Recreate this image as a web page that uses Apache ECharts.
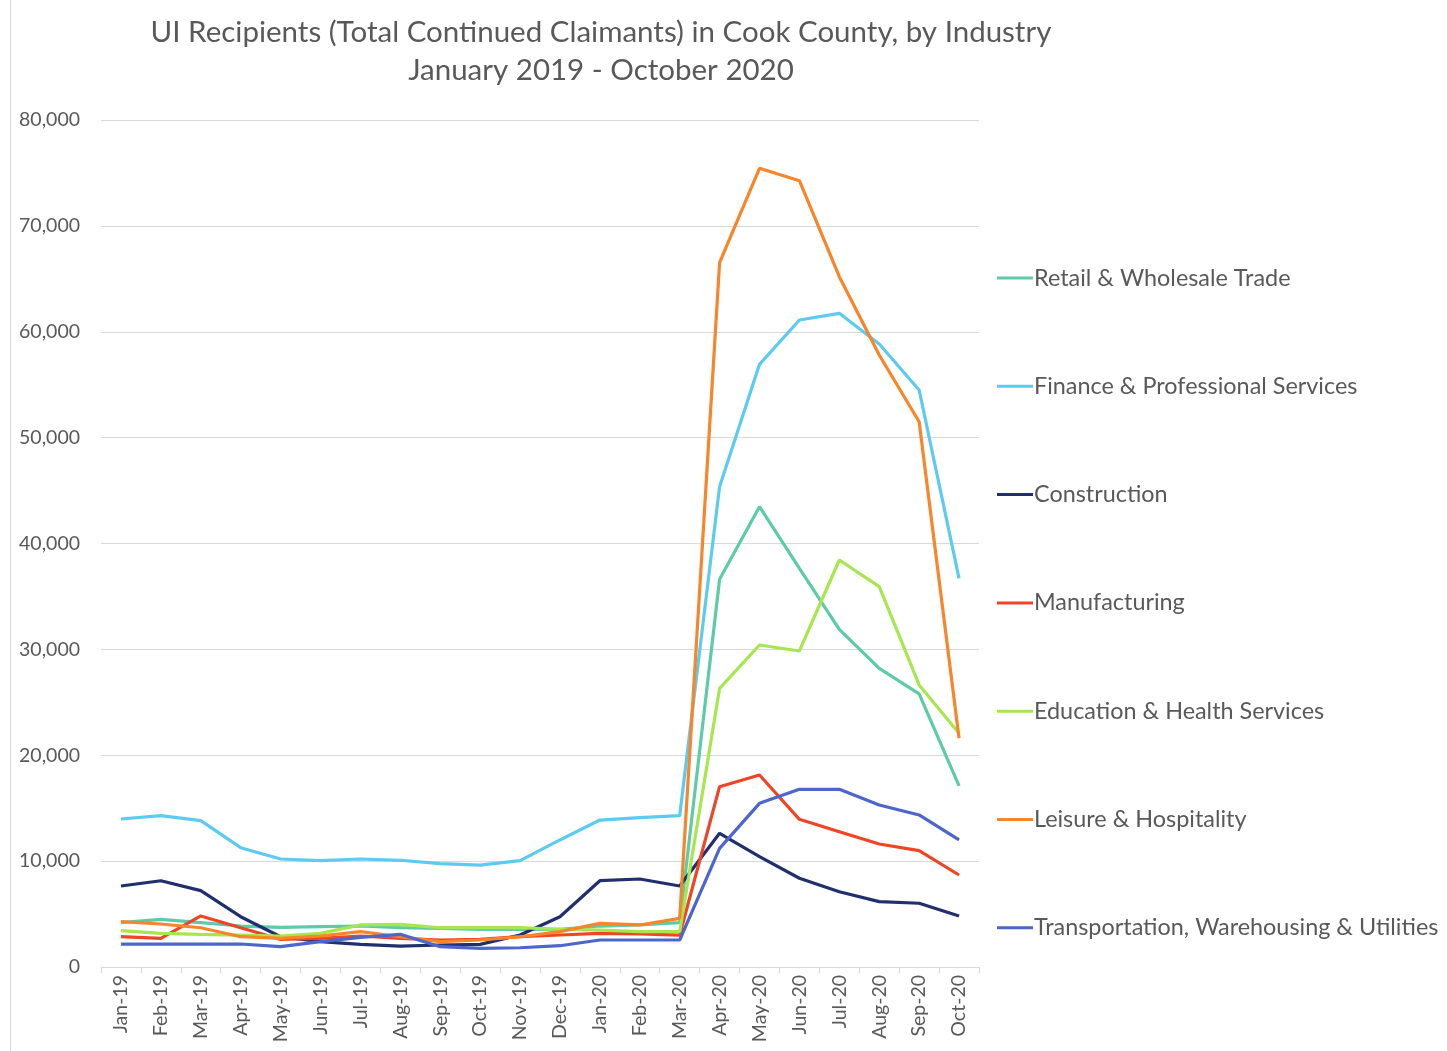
<!DOCTYPE html>
<html>
<head>
<meta charset="utf-8">
<script src="https://cdn.jsdelivr.net/npm/echarts@6/dist/echarts.min.js"></script>
<style>
html,body{margin:0;padding:0;background:#fff;}
#chart{width:1447px;height:1051px;}
</style>
</head>
<body>
<div id="chart"></div>
<script>
var months = ['Jan-19','Feb-19','Mar-19','Apr-19','May-19','Jun-19','Jul-19','Aug-19','Sep-19','Oct-19','Nov-19','Dec-19',
              'Jan-20','Feb-20','Mar-20','Apr-20','May-20','Jun-20','Jul-20','Aug-20','Sep-20','Oct-20'];

var retail = [4190,4500,4200,3870,3750,3810,3870,3710,3650,3560,3560,3560,3870,3970,4190,36620,43480,37650,31890,28210,25790,17100];
var finance = [13980,14290,13820,11270,10200,10040,10200,10080,9760,9630,10040,12000,13880,14100,14290,45370,56920,61110,61740,58840,54500,36710];
var construction = [7650,8150,7210,4750,2860,2390,2140,1980,2080,2140,3020,4750,8150,8310,7650,12630,10420,8380,7110,6170,6020,4820];
var manufacturing = [2860,2700,4820,3710,2610,2700,2930,2700,2550,2610,2860,3020,3180,3120,3020,17030,18130,13950,12780,11620,10990,8690];
var education = [3430,3180,3090,3020,2930,3180,3970,4030,3710,3710,3710,3560,3490,3340,3340,26320,30410,29850,38440,35920,26640,22070];
var leisure = [4280,4060,3710,2860,2700,2930,3340,2860,2390,2550,2860,3340,4120,3970,4600,66520,75440,74270,65200,57800,51500,21600];
var transport = [2170,2170,2170,2170,1920,2390,2800,3090,1920,1760,1820,2010,2550,2550,2550,11210,15460,16780,16780,15300,14360,12000];

var seriesNames = ['Retail & Wholesale Trade','Finance & Professional Services','Construction','Manufacturing',
                   'Education & Health Services','Leisure & Hospitality','Transportation, Warehousing & Utilities'];
var seriesData = [retail, finance, construction, manufacturing, education, leisure, transport];
var colors = ['#5BCBA8','#5BCBF2','#20306F','#EF4526','#A7E64E','#F8852A','#4D66CB'];

var titleLines = ['UI Recipients (Total Continued Claimants) in Cook County, by Industry','January 2019 - October 2020'];
var yTicks = {min:0, max:80000, interval:10000};

var FONT = 'Lato, "Open Sans", sans-serif';
var chart = echarts.init(document.getElementById('chart'), null, {renderer:'canvas'});
chart.setOption({
  animation:false,
  backgroundColor:'#ffffff',
  color: colors,
  title:{
    text: titleLines.join('\n'),
    left: 596, top: 8, textAlign:'center',
    textStyle:{fontFamily:FONT, fontSize:29.5, fontWeight:'normal', color:'#595959', lineHeight:38}
  },
  graphic:[{type:'line', shape:{x1:10.5,y1:0,x2:10.5,y2:1051}, style:{stroke:'#D9D9D9', lineWidth:1}}],
  legend:{
    orient:'vertical', left:997, top:266, padding:0,
    itemWidth:36, itemHeight:24, itemGap:84.3,
    icon:'path://M0,10.5 L36,10.5 L36,13.5 L0,13.5 Z',
    textStyle:{fontFamily:FONT, fontSize:23.4, color:'#595959', padding:[0,0,0,-4], lineHeight:24},
    data: seriesNames
  },
  grid:{left:101, right:468, top:120, bottom:84, containLabel:false},
  xAxis:{
    type:'category', data: months, boundaryGap:true,
    axisLine:{lineStyle:{color:'#D9D9D9', width:1}},
    axisTick:{show:true, length:6, lineStyle:{color:'#D9D9D9'}},
    axisLabel:{rotate:90, fontFamily:FONT, fontSize:19.5, color:'#595959', margin:8, interval:0}
  },
  yAxis:{
    type:'value', min:yTicks.min, max:yTicks.max, interval:yTicks.interval,
    axisLine:{show:false}, axisTick:{show:false},
    splitLine:{lineStyle:{color:'#D9D9D9', width:1}},
    axisLabel:{fontFamily:FONT, fontSize:19.5, color:'#595959', margin:21,
      formatter:function(v){return v.toLocaleString('en-US');}}
  },
  series: seriesNames.map(function(n,i){
    return {name:n, type:'line', data:seriesData[i], symbol:'none', smooth:false,
      lineStyle:{width:3.2, color:colors[i]}, itemStyle:{color:colors[i]}, z:2+i};
  })
});
</script>
</body>
</html>
